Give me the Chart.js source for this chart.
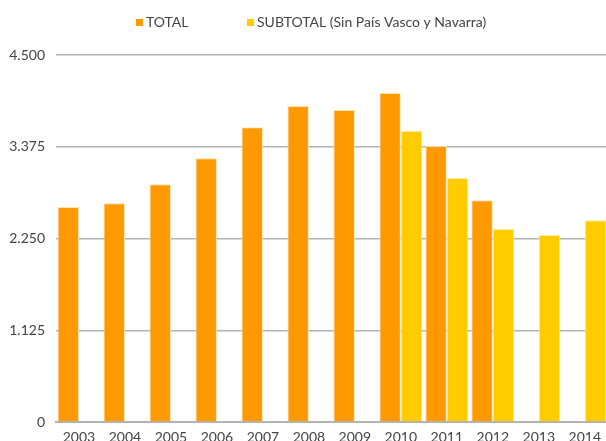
<!DOCTYPE html>
<html>
<head>
<meta charset="utf-8">
<script src="https://cdn.jsdelivr.net/npm/chart.js@4"></script>
<style>
  html, body { margin: 0; padding: 0; overflow: hidden; background: #fff; }
  #chart { display: block; }
</style>
</head>
<body>
<canvas id="chart" width="608" height="456"></canvas>
<script>
const years = ['2003', '2004', '2005', '2006', '2007', '2008', '2009', '2010', '2011', '2012', '2013', '2014'];
const totalValues = [2636, 2681, 2914, 3233, 3613, 3875, 3826, 4034, 3384, 2718, null, null];
const subtotalValues = [null, null, null, null, null, null, null, 3572, 2992, 2366, 2293, 2473];
const yTicks = [0, 1125, 2250, 3375, 4500];

const FONT = 'Lato, "Open Sans", sans-serif';

// legend drawn by hand so the two items can sit far apart like the original
const topLegend = {
    id: 'topLegend',
    afterDraw(chart, args, opts) {
        const ctx = chart.ctx;
        ctx.save();
        ctx.font = '14px ' + FONT;
        ctx.textBaseline = 'middle';
        chart.data.datasets.forEach((ds, i) => {
            const x = opts.xs[i];
            ctx.fillStyle = ds.backgroundColor;
            ctx.fillRect(x, opts.y - 3.5, 7, 7);
            ctx.fillStyle = '#444';
            ctx.fillText(ds.label, x + 10, opts.y);
        });
        ctx.restore();
    }
};

const fmt = v => v.toLocaleString('de-DE');

new Chart(document.getElementById('chart'), {
    type: 'bar',
    data: {
        labels: years,
        datasets: [
            {
                label: 'TOTAL',
                data: totalValues,
                backgroundColor: '#FF9900',
                borderColor: 'rgba(255,225,170,0.9)',
                borderWidth: 1,
                categoryPercentage: 0.935,
                barPercentage: 1.0
            },
            {
                label: 'SUBTOTAL (Sin País Vasco y Navarra)',
                data: subtotalValues,
                backgroundColor: '#FFCC00',
                borderColor: 'rgba(255,235,150,0.9)',
                borderWidth: 1,
                categoryPercentage: 0.935,
                barPercentage: 1.0
            }
        ]
    },
    options: {
        responsive: false,
        animation: false,
        devicePixelRatio: 1,
        layout: { padding: { top: 55, right: 0, left: 0, bottom: 0 } },
        plugins: {
            legend: { display: false },
            tooltip: { enabled: false },
            topLegend: { xs: [136, 247], y: 22.5 }
        },
        scales: {
            x: {
                grid: { display: false, drawTicks: false },
                border: { display: true, color: '#b3b3b3', width: 2 },
                ticks: {
                    color: '#444',
                    font: { family: FONT, size: 14 },
                    padding: 7,
                    maxRotation: 0,
                    autoSkip: false
                },
                afterFit: s => { s.height = 34; }
            },
            y: {
                min: 0,
                max: 4500,
                afterBuildTicks: s => { s.ticks = yTicks.map(v => ({ value: v })); },
                grid: { color: '#b3b3b3', lineWidth: 1.5, drawTicks: false },
                border: { display: false },
                ticks: {
                    color: '#444',
                    font: { family: FONT, size: 14 },
                    padding: 11,
                    callback: v => fmt(v)
                },
                afterFit: s => { s.width = 56; }
            }
        }
    },
    plugins: [topLegend]
});
</script>
</body>
</html>
